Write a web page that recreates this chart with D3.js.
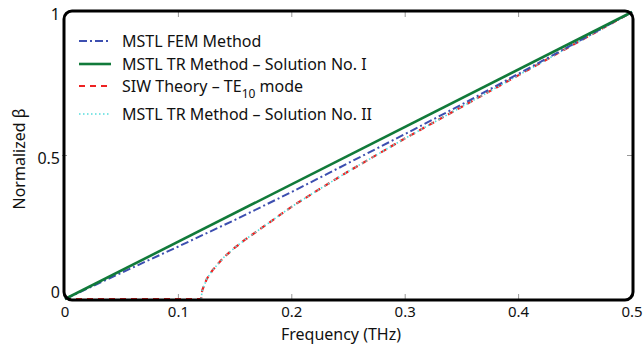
<!DOCTYPE html>
<html>
<head>
<meta charset="utf-8">
<script src="https://cdn.jsdelivr.net/npm/d3@7"></script>
<style>
  body { margin: 0; background: #fff; }
  text { font-family: "Noto Sans", sans-serif; fill: #111; }
</style>
</head>
<body>
<svg id="chart"></svg>
<script>
// data
const femFreq = [0, 0.05, 0.1, 0.15, 0.2, 0.25, 0.3, 0.35, 0.4, 0.45, 0.5];
const femBeta = [0, 0.092, 0.183, 0.276, 0.373, 0.474, 0.575, 0.678, 0.785, 0.892, 1.0];

const trFreq = [0, 0.5];
const trBeta = [0, 1.0];

const siwFreq = [0, 0.12, 0.121, 0.125, 0.13, 0.14, 0.15, 0.16, 0.18, 0.2, 0.22, 0.25, 0.3, 0.35, 0.4, 0.45, 0.5];
const siwBeta = [0, 0, 0.03, 0.07, 0.1, 0.145, 0.18, 0.21, 0.266, 0.322, 0.372, 0.445, 0.56, 0.67, 0.78, 0.89, 1.0];

const tr2Freq = [0.12, 0.121, 0.125, 0.13, 0.14, 0.15, 0.16, 0.18, 0.2, 0.22, 0.25, 0.3, 0.35, 0.4, 0.45, 0.5];
const tr2Beta = [0, 0.03, 0.07, 0.1, 0.145, 0.18, 0.21, 0.266, 0.322, 0.372, 0.445, 0.56, 0.67, 0.78, 0.89, 1.0];

const xTicks = [0, 0.1, 0.2, 0.3, 0.4, 0.5];
const xTickLabels = ["0", "0.1", "0.2", "0.3", "0.4", "0.5"];
const yTicks = [0, 0.5, 1];
const yTickLabels = ["0", "0.5", "1"];

const width = 643, height = 347;
const margin = { top: 12, right: 11, bottom: 48, left: 65 };

const svg = d3.select("#chart")
    .attr("width", width)
    .attr("height", height);

const x = d3.scaleLinear()
    .domain([0, 0.5])
    .range([margin.left, width - margin.right]);

const y = d3.scaleLinear()
    .domain([0, 1])
    .range([height - margin.bottom, margin.top]);

const zip = (xs, ys) => xs.map((v, i) => [v, ys[i]]);
const line = d3.line().x(d => x(d[0])).y(d => y(d[1]));

// ticks inside the frame
const tickLen = 5;
const ticks = svg.append("g").attr("stroke", "#999").attr("stroke-width", 1);
xTicks.slice(1, -1).forEach(t => {
    ticks.append("line").attr("x1", x(t)).attr("x2", x(t))
        .attr("y1", y(0)).attr("y2", y(0) - tickLen);
    ticks.append("line").attr("x1", x(t)).attr("x2", x(t))
        .attr("y1", y(1)).attr("y2", y(1) + tickLen);
});
yTicks.slice(1, -1).forEach(t => {
    ticks.append("line").attr("x1", x(0) - 3).attr("x2", x(0) + 2)
        .attr("y1", y(t)).attr("y2", y(t));
    ticks.append("line").attr("x1", x(0.5)).attr("x2", x(0.5) - tickLen)
        .attr("y1", y(t)).attr("y2", y(t));
});

// series
const series = [
    { data: zip(siwFreq, siwBeta), color: "#ee2222", width: 2.2, dash: "6,5" },
    { data: zip(tr2Freq, tr2Beta), color: "#55dddd", width: 1.6, dash: "1.5,2.5" },
    { data: zip(femFreq, femBeta), color: "#3d4fb0", width: 2, dash: "8,3,2,3" },
    { data: zip(trFreq, trBeta), color: "#117a3a", width: 2.6, dash: null }
];

series.forEach(s => {
    svg.append("path")
        .datum(s.data)
        .attr("fill", "none")
        .attr("stroke", s.color)
        .attr("stroke-width", s.width)
        .attr("stroke-dasharray", s.dash)
        .attr("d", line);
});

// frame
svg.append("rect")
    .attr("x", x(0) - 1)
    .attr("y", y(1) - 1)
    .attr("width", x(0.5) - x(0) + 2)
    .attr("height", y(0) - y(1) + 2)
    .attr("rx", 8)
    .attr("fill", "none")
    .attr("stroke", "#000")
    .attr("stroke-width", 3);

// tick labels
svg.append("g").selectAll("text")
    .data(xTicks)
    .join("text")
    .attr("x", d => x(d))
    .attr("y", y(0) + 18)
    .attr("text-anchor", "middle")
    .attr("font-size", 15)
    .text((d, i) => xTickLabels[i]);

svg.append("g").selectAll("text")
    .data(yTicks)
    .join("text")
    .attr("x", x(0) - 5)
    .attr("y", d => y(d) + (d === 0 ? -1 : 8))
    .attr("text-anchor", "end")
    .attr("font-size", 16)
    .text((d, i) => yTickLabels[i]);

// axis titles
svg.append("text")
    .attr("x", 341)
    .attr("y", 340)
    .attr("text-anchor", "middle")
    .attr("font-size", 16)
    .text("Frequency (THz)");

svg.append("text")
    .attr("transform", `translate(25, 159) rotate(-90)`)
    .attr("text-anchor", "middle")
    .attr("font-size", 16)
    .text("Normalized β");

// legend
const legendRows = [
    { label: "MSTL FEM Method", s: series[2], yy: 41 },
    { label: "MSTL TR Method – Solution No. I", s: series[3], yy: 64 },
    { label: "SIW Theory – TE", sub: "10", after: " mode", s: series[0], yy: 86 },
    { label: "MSTL TR Method – Solution No. II", s: series[1], yy: 114 }
];

const legend = svg.append("g");
legendRows.forEach(r => {
    legend.append("line")
        .attr("x1", 79).attr("x2", 111)
        .attr("y1", r.yy).attr("y2", r.yy)
        .attr("stroke", r.s.color)
        .attr("stroke-width", r.s.width)
        .attr("stroke-dasharray", r.s.dash);
    const t = legend.append("text")
        .attr("x", 122)
        .attr("y", r.yy + 6)
        .attr("font-size", 16);
    t.append("tspan").text(r.label);
    if (r.sub) {
        t.append("tspan").attr("dy", 6).attr("font-size", 12).text(r.sub);
        t.append("tspan").attr("dy", -6).text(r.after);
    }
});
</script>
</body>
</html>
